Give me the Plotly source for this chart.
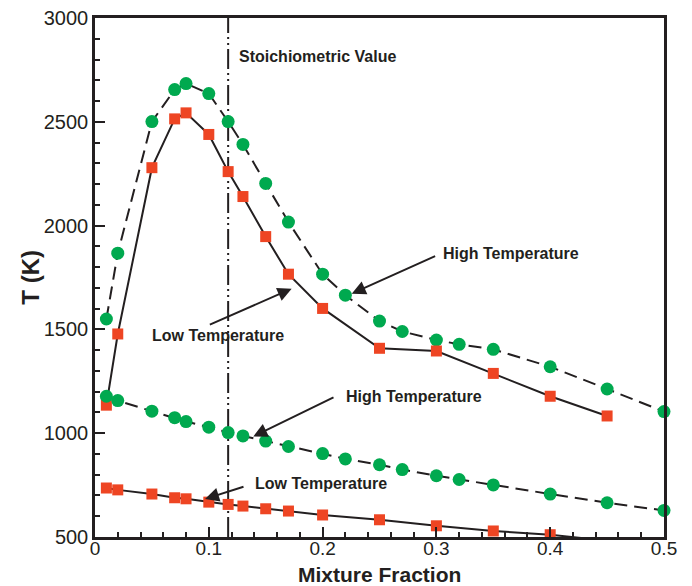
import plotly.graph_objects as go

# ---- data ----
x_hi_up = [0.01, 0.02, 0.05, 0.07, 0.08, 0.10, 0.117, 0.13, 0.15, 0.17, 0.20, 0.22, 0.25, 0.27, 0.30, 0.32, 0.35, 0.40, 0.45, 0.50]
T_hi_up = [1550, 1867, 2501, 2655, 2684, 2636, 2501, 2391, 2203, 2017, 1766, 1665, 1540, 1490, 1449, 1428, 1404, 1320, 1213, 1104]

x_lo_up = [0.01, 0.02, 0.05, 0.07, 0.08, 0.10, 0.117, 0.13, 0.15, 0.17, 0.20, 0.25, 0.30, 0.35, 0.40, 0.45]
T_lo_up = [1135, 1478, 2279, 2514, 2543, 2439, 2260, 2140, 1947, 1766, 1601, 1409, 1396, 1288, 1178, 1083]

x_hi_dn = [0.01, 0.02, 0.05, 0.07, 0.08, 0.10, 0.117, 0.13, 0.15, 0.17, 0.20, 0.22, 0.25, 0.27, 0.30, 0.32, 0.35, 0.40, 0.45, 0.50]
T_hi_dn = [1178, 1157, 1106, 1075, 1056, 1029, 1003, 987, 962, 936, 902, 876, 848, 825, 795, 777, 751, 707, 665, 628]

x_lo_dn = [0.01, 0.02, 0.05, 0.07, 0.08, 0.10, 0.117, 0.13, 0.15, 0.17, 0.20, 0.25, 0.30, 0.35, 0.40, 0.45]
T_lo_dn = [736, 727, 707, 689, 684, 668, 657, 649, 636, 625, 606, 583, 554, 529, 511, 482]

x_stoich = 0.117
x_ticks = [0, 0.1, 0.2, 0.3, 0.4, 0.5]
y_ticks = [500, 1000, 1500, 2000, 2500, 3000]

GREEN = "#00A94F"
RED = "#EE4523"
INK = "#231F20"
FONT = "Liberation Sans, Arial, sans-serif"

fig = go.Figure()

# stoichiometric line
fig.add_trace(go.Scatter(x=[x_stoich, x_stoich], y=[500, 3000], mode="lines",
                         line=dict(color=INK, width=2, dash="20px,4px,2px,4px,2px,4px"),
                         showlegend=False, hoverinfo="skip"))

def add_series(xs, ys, color, symbol, size, dash, clip):
    fig.add_trace(go.Scatter(x=xs, y=ys, mode="lines+markers",
                             line=dict(color=INK, width=2, dash=dash),
                             marker=dict(color=color, symbol=symbol, size=size, line=dict(width=0)),
                             cliponaxis=clip, showlegend=False))

add_series(x_hi_up, T_hi_up, GREEN, "circle", 13, "13px,7px", False)
add_series(x_lo_up, T_lo_up, RED, "square", 11, "solid", False)
add_series(x_hi_dn, T_hi_dn, GREEN, "circle", 13, "13px,7px", False)
add_series(x_lo_dn, T_lo_dn, RED, "square", 11, "solid", True)

txt = dict(family=FONT, size=16, color=INK)
ann = []
# Stoichiometric label
ann.append(dict(x=0.1248, y=2814, text="<b>Stoichiometric Value</b>", showarrow=False,
                xanchor="left", yanchor="middle", font=txt))
# labels
ann.append(dict(x=0.304, y=1868, text="<b>High Temperature</b>", showarrow=False,
                xanchor="left", yanchor="middle", font=txt))
ann.append(dict(x=0.1077, y=1470, text="<b>Low Temperature</b>", showarrow=False,
                xanchor="center", yanchor="middle", font=txt))
ann.append(dict(x=0.2188, y=1177, text="<b>High Temperature</b>", showarrow=False,
                xanchor="left", yanchor="middle", font=txt))
ann.append(dict(x=0.1388, y=760, text="<b>Low Temperature</b>", showarrow=False,
                xanchor="left", yanchor="middle", font=txt))
# arrows (head at x,y; tail at ax,ay)
arrows = [((0.2256, 1672), (0.3002, 1856)),
          ((0.1728, 1696), (0.0996, 1520)),
          ((0.1391, 984), (0.2109, 1176)),
          ((0.0967, 683), (0.1318, 744))]
for (hx, hy), (tx, ty) in arrows:
    ann.append(dict(x=hx, y=hy, ax=tx, ay=ty, xref="x", yref="y", axref="x", ayref="y",
                    text="", showarrow=True, arrowhead=2, arrowsize=1.4, arrowwidth=2,
                    arrowcolor=INK, standoff=0, startstandoff=0))
# axis titles
ann.append(dict(x=0.5, y=0, yshift=-37, xref="paper", yref="paper", text="<b>Mixture Fraction</b>",
                showarrow=False, xanchor="center", yanchor="middle",
                font=dict(size=21, family=FONT, color=INK)))
ann.append(dict(x=-0.114, y=0.5, xref="paper", yref="paper", text="<b>T (K)</b>", textangle=-90,
                showarrow=False, xanchor="center", yanchor="middle",
                font=dict(size=24, family=FONT, color=INK)))

fig.update_layout(
    width=692, height=586,
    margin=dict(l=95, r=28, t=18, b=49),
    paper_bgcolor="white", plot_bgcolor="white",
    font=dict(family=FONT, color=INK),
    annotations=ann,
    xaxis=dict(range=[0, 0.5], tickvals=x_ticks, ticktext=[str(v) if v else "0" for v in x_ticks],
               automargin=False, ticklabelstandoff=-8,
               showgrid=False, zeroline=False, showline=True, linecolor=INK, linewidth=2.5,
               mirror=True, ticks="inside", ticklen=10, tickwidth=2, tickcolor=INK,
               minor=dict(dtick=0.02, ticks="inside", ticklen=5, tickwidth=1.5, tickcolor=INK),
               tickfont=dict(size=19, family=FONT, color=INK)),
    yaxis=dict(range=[500, 3000], tickvals=y_ticks, automargin=False,
               showgrid=False, zeroline=False, showline=True, linecolor=INK, linewidth=2.5,
               mirror=True, ticks="inside", ticklen=10, tickwidth=2, tickcolor=INK,
               minor=dict(dtick=100, ticks="inside", ticklen=5, tickwidth=1.5, tickcolor=INK),
               tickfont=dict(size=20, family=FONT, color=INK)),
)

fig.write_html("out.html")
